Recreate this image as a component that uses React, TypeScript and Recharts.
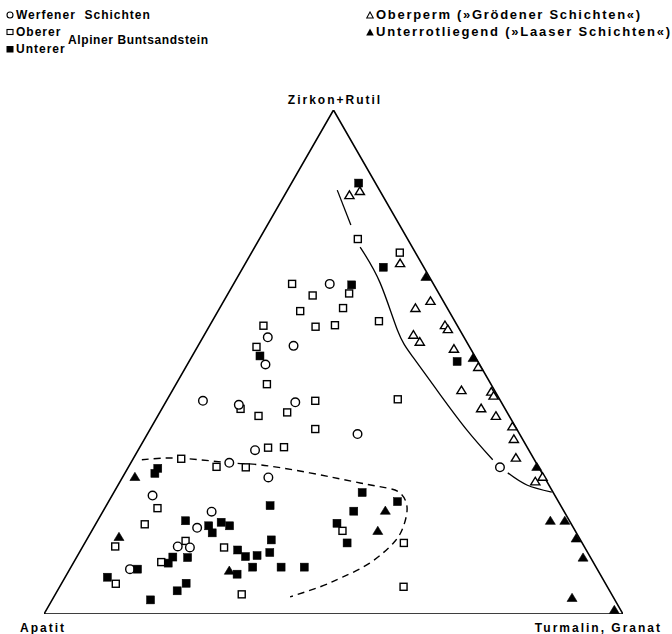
import React from "react";
import { ComposedChart, Line, Scatter, XAxis, YAxis } from "recharts";

// Ternary values: zr = Zirkon+Rutil %, tg = Turmalin,Granat % (Apatit = 100 - zr - tg)
const werfener = [
  { zr: 65.5, tg: 16.6 }, { zr: 54.9, tg: 11.2 }, { zr: 53.2, tg: 16.5 }, { zr: 49.5, tg: 13.5 },
  { zr: 42.3, tg: 6.3 }, { zr: 41.5, tg: 12.9 }, { zr: 42.0, tg: 22.4 }, { zr: 35.7, tg: 36.3 },
  { zr: 32.5, tg: 20.2 }, { zr: 30.0, tg: 17.0 }, { zr: 27.1, tg: 25.2 }, { zr: 23.5, tg: 7.0 },
  { zr: 20.3, tg: 18.8 }, { zr: 17.1, tg: 17.9 }, { zr: 13.4, tg: 16.4 }, { zr: 13.2, tg: 18.6 },
  { zr: 8.9, tg: 10.4 }, { zr: 29.1, tg: 64.2 },
];

const obererBunt = [
  { zr: 74.4, tg: 17.0 }, { zr: 71.7, tg: 25.6 }, { zr: 65.5, tg: 10.1 }, { zr: 63.6, tg: 20.9 },
  { zr: 63.2, tg: 14.8 }, { zr: 60.1, tg: 14.2 }, { zr: 60.7, tg: 21.3 }, { zr: 57.2, tg: 9.3 },
  { zr: 57.0, tg: 18.4 }, { zr: 57.3, tg: 21.6 }, { zr: 58.1, tg: 28.8 }, { zr: 53.0, tg: 10.2 },
  { zr: 45.6, tg: 15.7 }, { zr: 40.7, tg: 13.6 }, { zr: 40.0, tg: 22.0 }, { zr: 42.3, tg: 25.7 },
  { zr: 42.6, tg: 39.8 }, { zr: 39.3, tg: 17.4 }, { zr: 36.7, tg: 28.5 }, { zr: 33.0, tg: 22.2 },
  { zr: 33.1, tg: 24.9 }, { zr: 30.8, tg: 8.3 }, { zr: 29.2, tg: 15.2 }, { zr: 29.1, tg: 20.3 },
  { zr: 21.0, tg: 9.1 }, { zr: 17.8, tg: 8.5 }, { zr: 13.4, tg: 5.6 }, { zr: 14.5, tg: 17.2 },
  { zr: 13.2, tg: 24.5 }, { zr: 10.3, tg: 15.1 }, { zr: 6.0, tg: 9.4 }, { zr: 3.9, tg: 32.2 },
  { zr: 16.5, tg: 43.3 }, { zr: 14.1, tg: 55.1 }, { zr: 5.4, tg: 59.4 },
];

const untererBunt = [
  { zr: 85.5, tg: 11.6 }, { zr: 68.8, tg: 24.2 }, { zr: 65.3, tg: 20.5 }, { zr: 51.2, tg: 11.7 },
  { zr: 50.1, tg: 46.3 }, { zr: 28.9, tg: 5.2 }, { zr: 27.9, tg: 5.2 }, { zr: 18.5, tg: 15.2 },
  { zr: 17.5, tg: 19.7 }, { zr: 16.1, tg: 21.0 }, { zr: 18.2, tg: 21.5 }, { zr: 17.5, tg: 23.3 },
  { zr: 21.5, tg: 28.3 }, { zr: 12.7, tg: 27.1 }, { zr: 11.4, tg: 29.1 }, { zr: 11.6, tg: 31.0 },
  { zr: 14.7, tg: 31.9 }, { zr: 12.2, tg: 32.9 }, { zr: 11.3, tg: 16.6 }, { zr: 10.1, tg: 16.4 },
  { zr: 11.2, tg: 19.2 }, { zr: 8.9, tg: 11.7 }, { zr: 9.3, tg: 31.4 }, { zr: 7.9, tg: 29.4 },
  { zr: 7.3, tg: 7.3 }, { zr: 6.1, tg: 21.5 }, { zr: 4.6, tg: 20.7 }, { zr: 2.8, tg: 17.0 },
  { zr: 9.3, tg: 36.3 }, { zr: 9.3, tg: 40.3 }, { zr: 24.1, tg: 42.9 }, { zr: 22.3, tg: 49.9 },
  { zr: 20.4, tg: 43.3 }, { zr: 18.0, tg: 41.6 }, { zr: 14.1, tg: 45.3 },
];

const oberperm = [
  { zr: 83.1, tg: 11.2 }, { zr: 83.9, tg: 12.6 }, { zr: 69.6, tg: 26.7 }, { zr: 62.1, tg: 35.7 },
  { zr: 60.7, tg: 33.8 }, { zr: 57.3, tg: 40.6 }, { zr: 56.5, tg: 41.5 }, { zr: 55.4, tg: 36.1 },
  { zr: 54.0, tg: 37.9 }, { zr: 52.6, tg: 44.5 }, { zr: 49.0, tg: 50.5 }, { zr: 44.4, tg: 49.9 },
  { zr: 44.1, tg: 55.2 }, { zr: 43.3, tg: 56.0 }, { zr: 40.8, tg: 55.1 }, { zr: 39.3, tg: 58.4 },
  { zr: 37.2, tg: 62.3 }, { zr: 34.7, tg: 63.8 }, { zr: 31.0, tg: 66.0 }, { zr: 27.2, tg: 72.5 },
  { zr: 26.3, tg: 71.7 },
];

const unterrot = [
  { zr: 66.9, tg: 32.5 }, { zr: 50.8, tg: 48.7 }, { zr: 29.2, tg: 70.5 }, { zr: 18.5, tg: 78.2 },
  { zr: 18.5, tg: 80.7 }, { zr: 15.0, tg: 84.4 }, { zr: 11.2, tg: 87.5 }, { zr: 3.2, tg: 89.6 },
  { zr: 0.8, tg: 98.1 }, { zr: 27.2, tg: 2.1 }, { zr: 15.3, tg: 5.3 }, { zr: 8.6, tg: 27.7 },
  { zr: 20.5, tg: 48.7 }, { zr: 16.5, tg: 49.4 },
];

// Triangle corners: Apatit, Zirkon+Rutil, Turmalin/Granat
const frame = [
  { zr: 0, tg: 0 }, { zr: 100, tg: 0 }, { zr: 0, tg: 100 }, { zr: 0, tg: 0 },
];

// Boundary lines
const boundaryTop = [{ zr: 84.1, tg: 8.6 }, { zr: 77.2, tg: 14.4 }];
const boundaryMid = [
  { zr: 72.8, tg: 18.2 }, { zr: 65.7, tg: 25.2 }, { zr: 56.3, tg: 32.9 }, { zr: 51.0, tg: 38.2 },
  { zr: 43.5, tg: 46.7 }, { zr: 36.5, tg: 54.8 }, { zr: 30.6, tg: 62.2 },
];
const boundaryLow = [{ zr: 28.0, tg: 66.1 }, { zr: 25.6, tg: 70.6 }, { zr: 24.2, tg: 75.6 }];
const dashedField = [
  { zr: 30.6, tg: 1.6 }, { zr: 30.9, tg: 8.1 }, { zr: 30.0, tg: 17.1 }, { zr: 29.6, tg: 22.5 },
  { zr: 28.0, tg: 31.9 }, { zr: 26.0, tg: 41.6 }, { zr: 25.0, tg: 46.7 }, { zr: 24.0, tg: 49.5 },
  { zr: 21.2, tg: 52.1 }, { zr: 17.3, tg: 53.4 }, { zr: 14.1, tg: 53.3 }, { zr: 10.1, tg: 51.2 },
  { zr: 7.3, tg: 47.9 }, { zr: 5.4, tg: 45.0 }, { zr: 3.4, tg: 40.8 },
];

const cornerLabels = ["Zirkon+Rutil", "Apatit", "Turmalin, Granat"];
const legendLabels = [
  "Werfener  Schichten",
  "Oberer",
  "Unterer",
  "Alpiner Buntsandstein",
  "Oberperm (»Grödener Schichten«)",
  "Unterrotliegend (»Laaser Schichten«)",
];

type T = { zr: number; tg: number };
const toXY = (arr: T[]) => arr.map((p) => ({ x: p.tg + p.zr / 2, y: p.zr }));

const SW = 1.4;
const OpenSquare = (p: any) => (
  <rect x={p.cx - 3.5} y={p.cy - 3.5} width={7} height={7} fill="#fff" stroke="#000" strokeWidth={SW} />
);
const FilledSquare = (p: any) => (
  <rect x={p.cx - 4} y={p.cy - 4} width={8} height={8} fill="#000" stroke="#000" strokeWidth={0.5} />
);
const OpenCircle = (p: any) => (
  <circle cx={p.cx} cy={p.cy} r={4.3} fill="#fff" stroke="#000" strokeWidth={SW} />
);
const OpenTriangle = (p: any) => (
  <polygon
    points={`${p.cx},${p.cy - 4.2} ${p.cx + 4.6},${p.cy + 3.4} ${p.cx - 4.6},${p.cy + 3.4}`}
    fill="#fff"
    stroke="#000"
    strokeWidth={SW}
    strokeLinejoin="miter"
  />
);
const FilledTriangle = (p: any) => (
  <polygon
    points={`${p.cx},${p.cy - 4.6} ${p.cx + 5},${p.cy + 3.6} ${p.cx - 5},${p.cy + 3.6}`}
    fill="#000"
    stroke="#000"
    strokeWidth={0.6}
  />
);

const font = '"Liberation Sans", Arial, sans-serif';
const txt: React.CSSProperties = {
  position: "absolute",
  fontFamily: font,
  fontWeight: 700,
  fontSize: 12,
  letterSpacing: 1,
  color: "#000",
  whiteSpace: "pre",
  lineHeight: "14px",
};

const Icon = ({ kind }: { kind: string }) => (
  <svg width={8} height={8} style={{ marginRight: 2, verticalAlign: "middle", position: "relative", top: -1 }}>
    {kind === "circle" && <circle cx={4} cy={4} r={3} fill="#fff" stroke="#000" strokeWidth={1.1} />}
    {kind === "square" && <rect x={1} y={1.5} width={6} height={5} fill="#fff" stroke="#000" strokeWidth={1.1} />}
    {kind === "fsquare" && <rect x={0.5} y={1} width={7} height={6.5} fill="#000" />}
    {kind === "tri" && <polygon points="4,1 7.3,7 0.7,7" fill="#fff" stroke="#000" strokeWidth={1.1} />}
    {kind === "ftri" && <polygon points="4,0.5 7.8,7.5 0.2,7.5" fill="#000" />}
  </svg>
);

export default function App() {
  return (
    <div style={{ position: "absolute", left: 0, top: 0, width: 672, height: 634, background: "#fff" }}>
      <ComposedChart width={672} height={634} margin={{ top: 110, left: 44, right: 49, bottom: 20 }}>
        <XAxis type="number" dataKey="x" domain={[0, 100]} allowDataOverflow hide />
        <YAxis type="number" dataKey="y" domain={[0, 100]} allowDataOverflow hide />
        <Line data={toXY(frame)} dataKey="y" type="linear" stroke="#000" strokeWidth={1.6} dot={false} isAnimationActive={false} />
        <Line data={toXY(boundaryTop)} dataKey="y" type="linear" stroke="#000" strokeWidth={1.3} dot={false} isAnimationActive={false} />
        <Line data={toXY(boundaryMid)} dataKey="y" type="natural" stroke="#000" strokeWidth={1.3} dot={false} isAnimationActive={false} />
        <Line data={toXY(boundaryLow)} dataKey="y" type="natural" stroke="#000" strokeWidth={1.3} dot={false} isAnimationActive={false} />
        <Line data={toXY(dashedField)} dataKey="y" type="natural" stroke="#000" strokeWidth={1.4} strokeDasharray="7 5" dot={false} isAnimationActive={false} />
        <Scatter data={toXY(obererBunt)} shape={OpenSquare} isAnimationActive={false} />
        <Scatter data={toXY(werfener)} shape={OpenCircle} isAnimationActive={false} />
        <Scatter data={toXY(oberperm)} shape={OpenTriangle} isAnimationActive={false} />
        <Scatter data={toXY(untererBunt)} shape={FilledSquare} isAnimationActive={false} />
        <Scatter data={toXY(unterrot)} shape={FilledTriangle} isAnimationActive={false} />
      </ComposedChart>

      <div style={{ ...txt, left: 335, top: 93, transform: "translateX(-50%)", letterSpacing: 2 }}>{cornerLabels[0]}</div>
      <div style={{ ...txt, left: 20, top: 621, letterSpacing: 2 }}>{cornerLabels[1]}</div>
      <div style={{ ...txt, right: 10, top: 621, letterSpacing: 2 }}>{cornerLabels[2]}</div>

      <div style={{ ...txt, left: 6, top: 8 }}><Icon kind="circle" />{legendLabels[0]}</div>
      <div style={{ ...txt, left: 6, top: 25 }}><Icon kind="square" />{legendLabels[1]}</div>
      <div style={{ ...txt, left: 6, top: 42 }}><Icon kind="fsquare" />{legendLabels[2]}</div>
      <div style={{ ...txt, left: 68, top: 33, letterSpacing: 0.6 }}>{legendLabels[3]}</div>
      <div style={{ ...txt, left: 366, top: 8, fontSize: 13, letterSpacing: 1.7 }}><Icon kind="tri" />{legendLabels[4]}</div>
      <div style={{ ...txt, left: 366, top: 25, fontSize: 13, letterSpacing: 1.8 }}><Icon kind="ftri" />{legendLabels[5]}</div>
    </div>
  );
}
